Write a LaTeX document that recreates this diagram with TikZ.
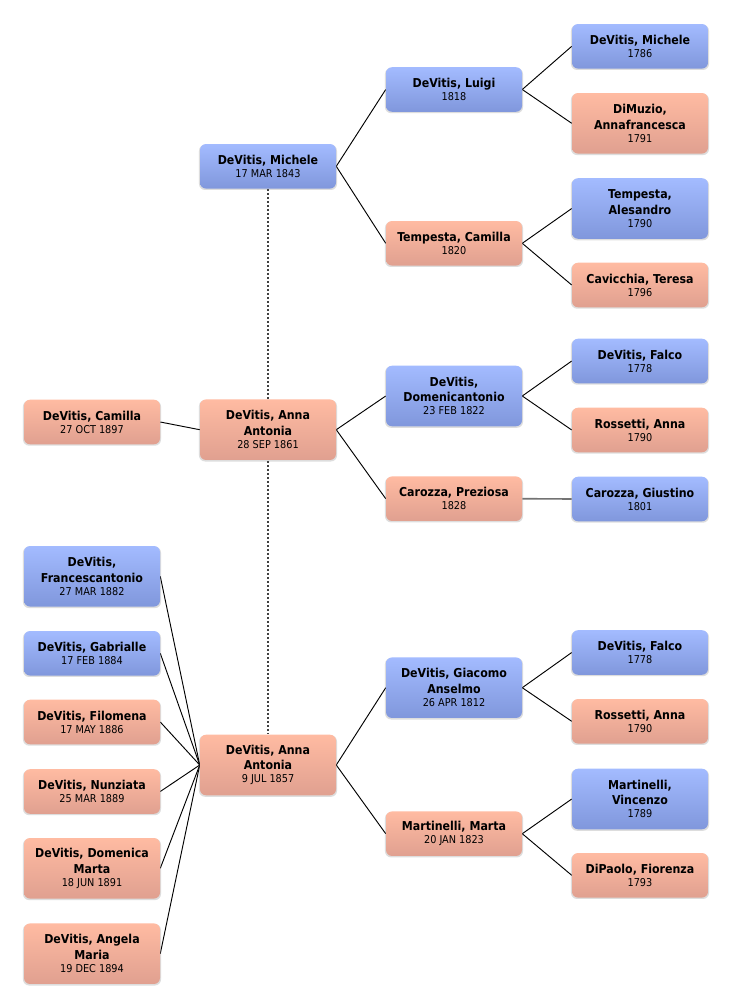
\documentclass[tikz,border=0pt]{standalone}
\usepackage{fontspec}
\setmainfont{DejaVu Sans Condensed}
\usetikzlibrary{shadows,backgrounds}
\definecolor{bluetop}{RGB}{163,187,255}
\definecolor{bluebot}{RGB}{128,151,220}
\definecolor{saltop}{RGB}{255,187,162}
\definecolor{salbot}{RGB}{224,160,144}
\newcommand\pdate[1]{{\fontsize{8.1pt}{9.5pt}\selectfont #1}}
\newcommand\pone[2]{\textbf{#1}\\[-2pt]\pdate{#2}}
\newcommand\ptwo[3]{\textbf{#1}\\\textbf{#2}\\[-2pt]\pdate{#3}}
\tikzset{
  person/.style={rounded corners=4.5pt, minimum width=102pt, minimum height=33.4pt,
    inner sep=0pt, align=center, font=\fontsize{9.2pt}{11.8pt}\selectfont,
    drop shadow={shadow xshift=0pt, shadow yshift=-0.8pt, opacity=0.22, fill=black!60, shadow scale=1.015}},
  male/.style={person, top color=bluetop, bottom color=bluebot},
  female/.style={person, top color=saltop, bottom color=salbot},
  tall/.style={minimum height=45.4pt},
  link/.style={draw=black, line width=0.7pt},
  grayline/.style={draw=black!55, line width=1.2pt},
  marriage/.style={draw=black!75, line width=1.3pt, dash pattern=on 1.6pt off 1.4pt},
}
\begin{document}
\begin{tikzpicture}[x=0.75pt,y=-0.75pt]
\path[use as bounding box] (0,0) rectangle (732,1008);
% column 1
\node[male] (m1843) at (268,166.3) {\pone{DeVitis, Michele}{17 MAR 1843}};
\node[female,tall] (aa1861) at (268,429.7) {\ptwo{DeVitis, Anna}{Antonia}{28 SEP 1861}};
\node[female,tall] (aa1857) at (268,765) {\ptwo{DeVitis, Anna}{Antonia}{9 JUL 1857}};
% column 0
\node[female] (camilla) at (92,422) {\pone{DeVitis, Camilla}{27 OCT 1897}};
\node[male,tall] (franc) at (92,576.3) {\ptwo{DeVitis,}{Francescantonio}{27 MAR 1882}};
\node[male] (gabr) at (92,653.3) {\pone{DeVitis, Gabrialle}{17 FEB 1884}};
\node[female] (filo) at (92,722) {\pone{DeVitis, Filomena}{17 MAY 1886}};
\node[female] (nunz) at (92,791.5) {\pone{DeVitis, Nunziata}{25 MAR 1889}};
\node[female,tall] (dome) at (92,868.3) {\ptwo{DeVitis, Domenica}{Marta}{18 JUN 1891}};
\node[female,tall] (ange) at (92,953.7) {\ptwo{DeVitis, Angela}{Maria}{19 DEC 1894}};
% column 2
\node[male] (luigi) at (454,89.5) {\pone{DeVitis, Luigi}{1818}};
\node[female] (tcam) at (454,243.3) {\pone{Tempesta, Camilla}{1820}};
\node[male,tall] (dant) at (454,396) {\ptwo{DeVitis,}{Domenicantonio}{23 FEB 1822}};
\node[female] (prez) at (454,498.7) {\pone{Carozza, Preziosa}{1828}};
\node[male,tall] (giac) at (454,687.7) {\ptwo{DeVitis, Giacomo}{Anselmo}{26 APR 1812}};
\node[female] (marta) at (454,833.7) {\pone{Martinelli, Marta}{20 JAN 1823}};
% column 3
\node[male] (m1786) at (640,46.3) {\pone{DeVitis, Michele}{1786}};
\node[female,tall] (dimu) at (640,123.3) {\ptwo{DiMuzio,}{Annafrancesca}{1791}};
\node[male,tall] (tale) at (640,208.5) {\ptwo{Tempesta,}{Alesandro}{1790}};
\node[female] (cavi) at (640,285) {\pone{Cavicchia, Teresa}{1796}};
\node[male] (falco1) at (640,361) {\pone{DeVitis, Falco}{1778}};
\node[female] (ross1) at (640,430) {\pone{Rossetti, Anna}{1790}};
\node[male] (gius) at (640,499) {\pone{Carozza, Giustino}{1801}};
\node[male] (falco2) at (640,652.5) {\pone{DeVitis, Falco}{1778}};
\node[female] (ross2) at (640,721.3) {\pone{Rossetti, Anna}{1790}};
\node[male,tall] (vinc) at (640,799) {\ptwo{Martinelli,}{Vincenzo}{1789}};
\node[female] (dipa) at (640,875.3) {\pone{DiPaolo, Fiorenza}{1793}};
\begin{pgfonlayer}{background}
\fill[white] (0,0) rectangle (732,1008);
\draw[marriage] (m1843.south) -- (aa1857.north);
\draw[link] (m1843.east) -- (luigi.west);
\draw[link] (m1843.east) -- (tcam.west);
\draw[link] (luigi.east) -- (m1786.west);
\draw[link] (luigi.east) -- (dimu.west);
\draw[link] (tcam.east) -- (tale.west);
\draw[link] (tcam.east) -- (cavi.west);
\draw[link] (camilla.east) -- (aa1861.west);
\draw[link] (aa1861.east) -- (dant.west);
\draw[link] (aa1861.east) -- (prez.west);
\draw[link] (dant.east) -- (falco1.west);
\draw[link] (dant.east) -- (ross1.west);
\draw[grayline] (prez.east) -- (gius.west);
\draw[link] (aa1857.east) -- (giac.west);
\draw[link] (aa1857.east) -- (marta.west);
\draw[link] (giac.east) -- (falco2.west);
\draw[link] (giac.east) -- (ross2.west);
\draw[link] (marta.east) -- (vinc.west);
\draw[link] (marta.east) -- (dipa.west);
\foreach \c in {franc,gabr,filo,nunz,dome,ange}
  \draw[link] (\c.east) -- (aa1857.west);
\end{pgfonlayer}
\end{tikzpicture}
\end{document}
